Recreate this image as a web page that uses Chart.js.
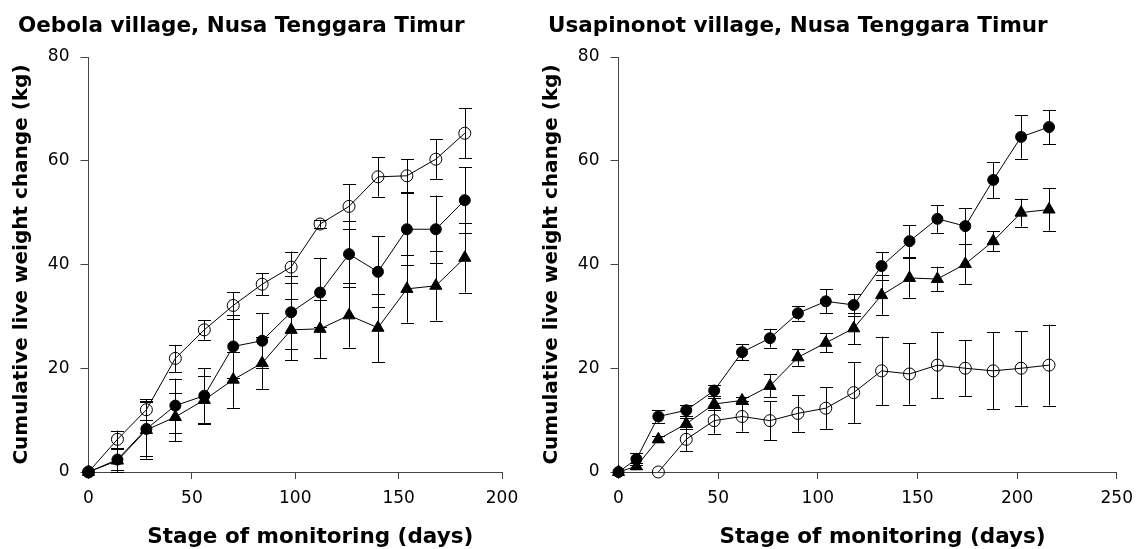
<!DOCTYPE html>
<html>
<head>
<meta charset="utf-8">
<script src="https://cdn.jsdelivr.net/npm/chart.js@4.4.1/dist/chart.umd.min.js"></script>
<style>
  html, body { margin: 0; padding: 0; background: #fff; }
  #wrap { position: relative; width: 1142px; height: 549px; overflow: hidden; }
  canvas { position: absolute; top: 0; }
  #oebola { left: 0; }
  #usapinonot { left: 530px; }
</style>
</head>
<body>
<div id="wrap">
  <canvas id="oebola" width="530" height="549"></canvas>
  <canvas id="usapinonot" width="612" height="549"></canvas>
</div>
<script>
// --- Oebola village (left panel) ---
const oebolaDays = [0, 14, 28, 42, 56, 70, 84, 98, 112, 126, 140, 154, 168, 182];
const oebolaOpen = [0, 6.3, 12.0, 21.9, 27.4, 32.1, 36.2, 39.5, 47.8, 51.2, 56.9, 57.1, 60.3, 65.3];
const oebolaOpenErr = [0, 1.7, 2.0, 2.6, 1.9, 2.6, 2.1, 3.0, 0.7, 4.3, 3.8, 3.2, 3.8, 4.8];
const oebolaFilled = [0, 2.4, 8.3, 12.8, 14.7, 24.2, 25.3, 30.8, 34.6, 42.0, 38.6, 46.8, 46.8, 52.4];
const oebolaFilledErr = [0, 2.0, 5.2, 5.2, 5.3, 6.1, 5.3, 7.0, 6.7, 6.4, 6.8, 6.9, 6.5, 6.4];
const oebolaTri = [0, 2.2, 8.1, 10.6, 13.9, 17.8, 21.0, 27.4, 27.6, 30.2, 27.8, 35.3, 35.9, 41.3];
const oebolaTriErr = [0, 2.2, 5.5, 4.7, 4.6, 5.4, 5.0, 5.9, 5.6, 6.2, 6.6, 6.5, 6.7, 6.7];

// --- Usapinonot village (right panel) ---
const usaDays = [0, 9, 20, 34, 48, 62, 76, 90, 104, 118, 132, 146, 160, 174, 188, 202, 216];
const usaFilled = [0, 2.5, 10.7, 11.9, 15.7, 23.1, 25.8, 30.6, 32.9, 32.2, 39.7, 44.5, 48.8, 47.4, 56.3, 64.6, 66.5];
const usaFilledErr = [0, 1.2, 1.2, 1.1, 1.1, 1.5, 1.8, 1.4, 2.3, 2.1, 2.7, 3.1, 2.7, 3.5, 3.5, 4.2, 3.3];
const usaTri = [0, 1.1, 6.3, 9.3, 13.1, 13.8, 16.6, 22.1, 24.9, 27.7, 34.1, 37.4, 37.2, 40.1, 44.5, 50.0, 50.6];
const usaTriErr = [0, 0.6, 0.6, 1.1, 1.2, 0.7, 2.2, 1.6, 1.8, 3.0, 3.8, 3.8, 2.4, 3.9, 1.9, 2.7, 4.1];
const usaOpenDays = [20, 34, 48, 62, 76, 90, 104, 118, 132, 146, 160, 174, 188, 202, 216];
const usaOpen = [0, 6.3, 9.9, 10.7, 9.9, 11.3, 12.3, 15.3, 19.5, 18.9, 20.6, 20.0, 19.5, 20.0, 20.6];
const usaOpenErr = [0, 2.3, 2.5, 2.9, 3.8, 3.5, 4.0, 5.9, 6.6, 5.9, 6.4, 5.4, 7.4, 7.2, 7.8];

const yTicks = [0, 20, 40, 60, 80];
const xTitle = 'Stage of monitoring (days)';
const yTitle = 'Cumulative live weight change (kg)';

const FONT = '"DejaVu Sans", sans-serif';

function pts(days, vals) {
    return days.map((d, i) => ({ x: d, y: vals[i] }));
}

// vertical error bars with caps, drawn under the markers
const errorBars = {
    id: 'errorBars',
    beforeDatasetsDraw(chart) {
        const ctx = chart.ctx;
        const yScale = chart.scales.y;
        ctx.save();
        ctx.strokeStyle = '#000';
        ctx.lineWidth = 1;
        chart.data.datasets.forEach((ds, i) => {
            const meta = chart.getDatasetMeta(i);
            (ds.errors || []).forEach((e, j) => {
                if (!e) return;
                const v = ds.data[j].y;
                const x = Math.round(meta.data[j].x) + 0.5;
                const top = yScale.getPixelForValue(v + e);
                const bot = yScale.getPixelForValue(v - e);
                ctx.beginPath();
                ctx.moveTo(x, top);
                ctx.lineTo(x, bot);
                ctx.moveTo(x - 6.5, Math.round(top) + 0.5);
                ctx.lineTo(x + 6.5, Math.round(top) + 0.5);
                ctx.moveTo(x - 6.5, Math.round(bot) + 0.5);
                ctx.lineTo(x + 6.5, Math.round(bot) + 0.5);
                ctx.stroke();
            });
        });
        ctx.restore();
    }
};

// panel heading (left aligned) and x axis title (sits a bit right of centre in the original)
const panelText = {
    id: 'panelText',
    afterDraw(chart, args, opts) {
        const ctx = chart.ctx;
        const area = chart.chartArea;
        ctx.save();
        ctx.font = 'bold 21.5px ' + FONT;
        ctx.fillStyle = '#000';
        ctx.textBaseline = 'alphabetic';
        ctx.textAlign = 'left';
        ctx.fillText(opts.title, 18, 32);
        ctx.textAlign = 'center';
        ctx.fillText(xTitle, (area.left + area.right) / 2 + 15, 543);
        ctx.restore();
    }
};

function makeChart(id, title, xMax, padRight, sets) {
    const datasets = sets.map(s => ({
        label: s.label,
        data: s.data,
        errors: s.errors,
        borderColor: '#000',
        borderWidth: 1,
        pointStyle: s.style,
        pointRadius: s.radius,
        pointBackgroundColor: s.fill ? '#000' : 'rgba(0,0,0,0)',
        pointBorderColor: '#000',
        pointBorderWidth: 1,
        fill: false,
        tension: 0,
        clip: false
    }));

    return new Chart(document.getElementById(id), {
        type: 'line',
        data: { datasets },
        plugins: [errorBars, panelText],
        options: {
            responsive: false,
            animation: false,
            events: [],
            layout: { padding: { top: 57, left: 0, right: padRight, bottom: 0 } },
            plugins: {
                legend: { display: false },
                tooltip: { enabled: false },
                panelText: { title: title }
            },
            scales: {
                x: {
                    type: 'linear',
                    min: 0,
                    max: xMax,
                    ticks: { stepSize: 50, padding: 9, color: '#000', font: { family: FONT, size: 17 } },
                    grid: { drawOnChartArea: false, drawTicks: true, tickLength: 7, color: '#444' },
                    border: { display: true, color: '#444', width: 1 },
                    afterFit: s => { s.height = 77; }
                },
                y: {
                    type: 'linear',
                    min: 0,
                    max: 80,
                    afterBuildTicks: s => { s.ticks = yTicks.map(v => ({ value: v })); },
                    ticks: { padding: 11, color: '#000', font: { family: FONT, size: 17 } },
                    grid: { drawOnChartArea: false, drawTicks: true, tickLength: 8, color: '#444' },
                    border: { display: true, color: '#444', width: 1 },
                    title: {
                        display: true,
                        text: yTitle,
                        color: '#000',
                        font: { family: FONT, size: 20, weight: 'bold', lineHeight: 1.2 },
                        padding: { top: 10, bottom: 0 }
                    },
                    afterFit: s => { s.width = 88.5; }
                }
            }
        }
    });
}

makeChart('oebola', 'Oebola village, Nusa Tenggara Timur', 200, 28, [
    { label: 'filled', data: pts(oebolaDays, oebolaFilled), errors: oebolaFilledErr, style: 'circle', radius: 5.5, fill: true },
    { label: 'triangle', data: pts(oebolaDays, oebolaTri), errors: oebolaTriErr, style: 'triangle', radius: 7, fill: true },
    { label: 'open', data: pts(oebolaDays, oebolaOpen), errors: oebolaOpenErr, style: 'circle', radius: 6, fill: false }
]);

makeChart('usapinonot', 'Usapinonot village, Nusa Tenggara Timur', 250, 16, [
    { label: 'filled', data: pts(usaDays, usaFilled), errors: usaFilledErr, style: 'circle', radius: 5.5, fill: true },
    { label: 'triangle', data: pts(usaDays, usaTri), errors: usaTriErr, style: 'triangle', radius: 7, fill: true },
    { label: 'open', data: pts(usaOpenDays, usaOpen), errors: usaOpenErr, style: 'circle', radius: 6, fill: false }
]);
</script>
</body>
</html>
